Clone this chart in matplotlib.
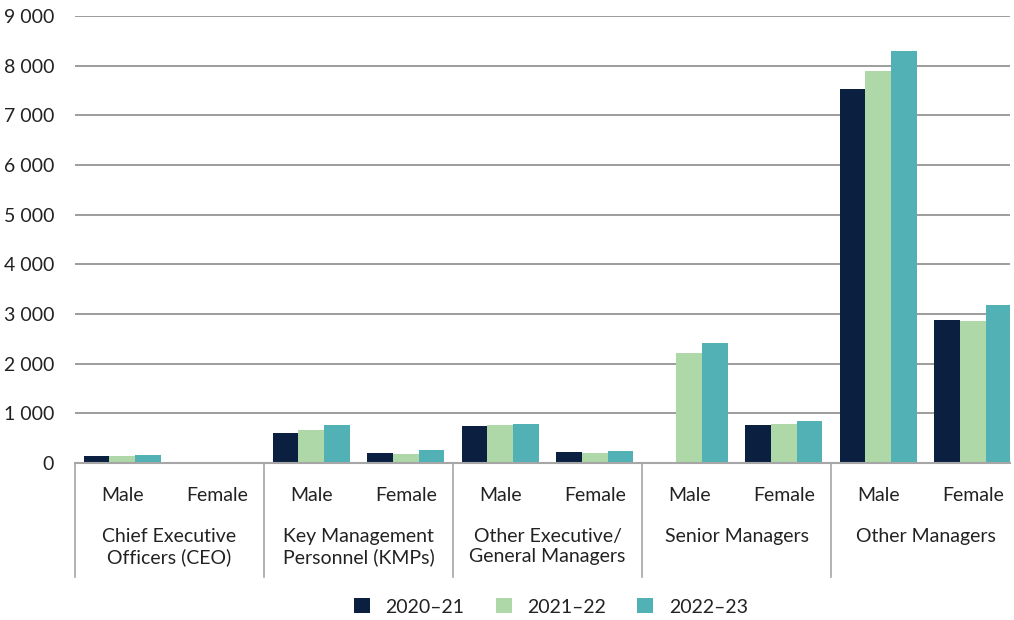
import numpy as np
import matplotlib.pyplot as plt
from matplotlib.ticker import FuncFormatter

plt.rcParams['font.family'] = ['Lato', 'DejaVu Sans']

groups = ['Chief Executive\nOfficers (CEO)', 'Key Management\nPersonnel (KMPs)',
          'Other Executive/\nGeneral Managers', 'Senior Managers', 'Other Managers']
genders = ['Male', 'Female']
years = ['2020–21', '2021–22', '2022–23']

# values per subcategory: CEO M, CEO F, KMP M, KMP F, OEGM M, OEGM F, SM M, SM F, OM M, OM F
y2021 = [150, 25, 595, 210, 755, 230, 0, 770, 7530, 2880]
y2122 = [150, 10, 655, 190, 775, 210, 2220, 790, 7895, 2865]
y2223 = [170, 10, 775, 270, 795, 250, 2420, 850, 8300, 3190]

colors = ['#0b1f40', '#aed8a8', '#51b1b5']
grey = '#8c8c8c'
txt = '#222222'
fs = 14

fig = plt.figure(figsize=(10.14, 6.2), dpi=100)
ax = fig.add_axes([75 / 1014, 157 / 620, 935 / 1014, 447 / 620])

x = np.arange(len(y2021))
w = 0.272
for i, (vals, c, lab) in enumerate(zip([y2021, y2122, y2223], colors, years)):
    ax.bar(x + (i - 1) * w, vals, width=w, color=c, label=lab, zorder=3)

# slot is ~94.5 px wide; the right edge of the last slot is cut off at 1010 px
ax.set_xlim(-0.5, 9.5 - 10 / 94.5)
ax.set_ylim(0, 9000)
ax.set_yticks(np.arange(0, 9001, 1000))
ax.yaxis.set_major_formatter(FuncFormatter(lambda v, p: f'{int(v):,}'.replace(',', ' ')))
ax.tick_params(axis='y', length=0, pad=15, labelsize=fs, labelcolor=txt)
ax.set_xticks([])
ax.grid(axis='y', color=grey, linewidth=1.2, zorder=0)
for s in ['top', 'right', 'left']:
    ax.spines[s].set_visible(False)
ax.spines['bottom'].set_color('#a6a6a6')
ax.spines['bottom'].set_linewidth(1.5)
ax.spines['bottom'].set_zorder(4)

# category axis: separators and labels
trans = ax.get_xaxis_transform()
for sx in np.arange(-0.5, 8, 2):
    ax.plot([sx, sx], [0, -0.255], transform=trans, color='#a6a6a6',
            linewidth=1.2, clip_on=False)
for i in x:
    ax.text(i, -0.073, genders[i % 2], transform=trans, ha='center', va='center',
            fontsize=fs, color=txt)
for g, name in enumerate(groups):
    ax.text(2 * g + 0.5, -0.146, name, transform=trans, ha='center', va='top',
            fontsize=fs, color=txt, linespacing=1.17)

fig.legend(loc='center', bbox_to_anchor=(551 / 1014, 13 / 620), ncol=3, frameon=False,
           fontsize=fs, handlelength=0.82, handleheight=0.82, columnspacing=1.6,
           handletextpad=0.82, labelcolor=txt)

fig.savefig('out.png', dpi=100)
